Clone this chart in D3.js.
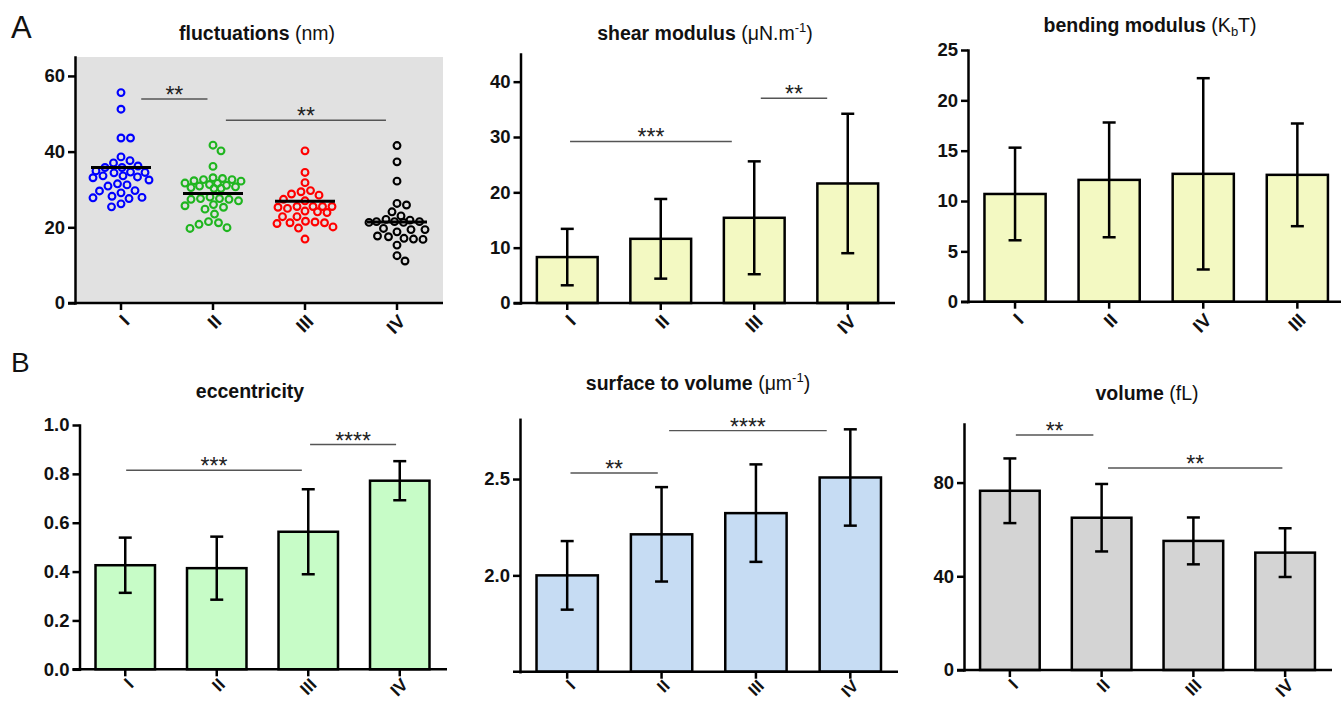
<!DOCTYPE html>
<html><head><meta charset="utf-8">
<script src="https://cdn.jsdelivr.net/npm/d3@7"></script>
<style>
body{margin:0;background:#fff}
svg{display:block;font-family:"Liberation Sans",Arial,sans-serif}
</style>
</head><body>
<svg id="chart" width="1341" height="702"></svg>
<script>
// ---------------- DATA ----------------
const categories = ["I", "II", "III", "IV"];
const bendingCategories = ["I", "II", "IV", "III"];

// fluctuations (nm) – individual cells
const fluctI = [55.6, 51.2, 43.6, 43.6, 38.6, 37.6, 37.0, 36.2, 35.8, 35.8, 34.9, 34.6, 34.5, 34.4, 33.6, 33.6, 33.3, 33.1, 32.5, 31.5, 31.2, 30.9, 29.7, 29.6, 29.1, 28.2, 27.9, 27.8, 27.6, 26.2, 25.4];
const fluctII = [41.7, 40.2, 36.1, 33.1, 32.9, 32.6, 32.6, 32.3, 32.2, 31.7, 31.6, 31.3, 31.1, 30.9, 30.7, 30.5, 30.3, 30.3, 28.0, 27.6, 27.6, 27.4, 27.4, 27.0, 26.0, 25.7, 25.3, 24.8, 23.5, 21.5, 21.2, 20.8, 19.9, 19.7];
const fluctIII = [40.2, 34.5, 31.8, 29.7, 29.4, 28.8, 28.5, 27.4, 27.0, 25.5, 25.5, 25.5, 25.5, 25.3, 25.0, 24.3, 24.1, 23.9, 22.8, 22.8, 21.6, 21.4, 21.2, 21.2, 21.0, 20.1, 19.8, 16.9];
const fluctIV = [41.6, 37.3, 32.2, 26.3, 25.9, 24.1, 23.0, 22.1, 21.9, 21.5, 21.5, 21.5, 21.3, 21.3, 19.7, 19.4, 19.4, 18.8, 17.7, 17.5, 17.1, 16.9, 16.8, 15.3, 12.5, 11.1];
const fluctMeans = [35.8, 28.9, 26.9, 21.4];
const fluctTicks = [0, 20, 40, 60];
const fluctSigFrom = [0.22, 1.14], fluctSigTo = [0.94, 2.88], fluctSigY = [53.9, 48.3], fluctSigLabel = ["**", "**"];

// shear modulus
const shearMeans = [8.3, 11.6, 15.4, 21.6];
const shearSD = [5.1, 7.2, 10.2, 12.6];
const shearTicks = [0, 10, 20, 30, 40];
const shearSigFrom = [0.03, 2.07], shearSigTo = [1.76, 2.78], shearSigY = [29.2, 37.0], shearSigLabel = ["***", "**"];

// bending modulus (order I, II, IV, III)
const bendMeans = [10.7, 12.1, 12.7, 12.6];
const bendSD = [4.6, 5.7, 9.5, 5.1];
const bendTicks = [0, 5, 10, 15, 20, 25];

// eccentricity
const eccMeans = [0.426, 0.414, 0.563, 0.772];
const eccSD = [0.113, 0.129, 0.174, 0.080];
const eccTicks = [0, 0.2, 0.4, 0.6, 0.8, 1.0];
const eccSigFrom = [0.01, 2.02], eccSigTo = [1.93, 2.96], eccSigY = [0.815, 0.92], eccSigLabel = ["***", "****"];

// surface to volume
const svMeans = [2.0, 2.213, 2.323, 2.508];
const svSD = [0.178, 0.245, 0.253, 0.25];
const svTicks = [2.0, 2.5];
const svSigFrom = [0.035, 1.08], svSigTo = [0.96, 2.75], svSigY = [2.531, 2.751], svSigLabel = ["**", "****"];

// volume
const volMeans = [76.5, 65.0, 55.1, 50.1];
const volSD = [13.8, 14.4, 10.0, 10.4];
const volTicks = [0, 40, 80];
const volSigFrom = [0.065, 1.07], volSigTo = [0.91, 2.97], volSigY = [100.3, 86.2], volSigLabel = ["**", "**"];

// ---------------- DRAWING ----------------
const svg = d3.select("#chart");
const AX = 2.5;
const TICK_FS = 18.5;

function makeScales(f, cats, domain) {
  const x = d3.scaleBand().domain(cats).range([f.x0, f.x1]).paddingInner(0.35).paddingOuter(0.175);
  const y = d3.scaleLinear().domain(domain).range([f.bottom, f.top]);
  const idx = d3.scaleLinear().domain([0, cats.length - 1])
    .range([x(cats[0]) + x.bandwidth() / 2, x(cats[cats.length - 1]) + x.bandwidth() / 2]);
  return {x, y, idx};
}

function drawAxes(g, f, s, ticks, fmt, fs) {
  const yAx = g.append("g").attr("transform", `translate(${f.x0},0)`)
    .call(d3.axisLeft(s.y).tickValues(ticks).tickFormat(fmt).tickSize(7).tickSizeOuter(0).tickPadding(3));
  yAx.select(".domain").attr("stroke-width", AX).attr("stroke-linecap", "square");
  yAx.selectAll(".tick line").attr("stroke-width", AX);
  yAx.selectAll(".tick text").attr("font-size", fs).attr("font-weight", "bold").attr("fill", "#111")
    .attr("font-family", '"Liberation Sans",Arial,sans-serif');

  const labDy = f.labDy || 15;
  const xAx = g.append("g").attr("transform", `translate(0,${f.bottom})`)
    .call(d3.axisBottom(s.x).tickSize(7).tickSizeOuter(0));
  xAx.select(".domain").remove();
  xAx.selectAll(".tick line").attr("stroke-width", AX);
  xAx.selectAll(".tick text").attr("font-size", f.labFs || fs).attr("font-weight", "bold").attr("fill", "#111")
    .attr("font-family", '"Liberation Sans",Arial,sans-serif')
    .attr("x", 0).attr("y", 0).attr("dy", "0.35em")
    .attr("text-anchor", "end")
    .attr("transform", `translate(5,${labDy}) rotate(-45)`);
  g.append("line").attr("x1", f.x0 - 7).attr("x2", f.axEnd).attr("y1", f.bottom).attr("y2", f.bottom)
    .attr("stroke", "#000").attr("stroke-width", AX);
}

function drawTitle(cx, by, bold, unit, sup, sub, tail) {
  const t = svg.append("text").attr("x", cx).attr("y", by).attr("text-anchor", "middle")
    .attr("font-size", 19.5).attr("fill", "#111");
  t.append("tspan").attr("font-weight", "bold").text(bold);
  if (unit !== null) {
    t.append("tspan").text(" " + unit);
    if (sup) t.append("tspan").attr("font-size", 13).attr("dy", -8).text(sup);
    if (sub) t.append("tspan").attr("font-size", 13).attr("dy", 4).text(sub);
    if (tail) t.append("tspan").attr("dy", sup ? 8 : (sub ? -4 : 0)).text(tail);
  }
}

function drawSig(g, s, from, to, yv, labels) {
  from.forEach((fr, i) => {
    const yy = s.y(yv[i]);
    g.append("line").attr("x1", s.idx(fr)).attr("x2", s.idx(to[i])).attr("y1", yy).attr("y2", yy)
      .attr("stroke", "#555").attr("stroke-width", 1.4);
    g.append("text").attr("x", (s.idx(fr) + s.idx(to[i])) / 2).attr("y", yy + 4)
      .attr("text-anchor", "middle").attr("font-size", 23).attr("fill", "#222").text(labels[i]);
  });
}

function drawBars(f, cats, domain, means, sds, ticks, fmt, fill, fs) {
  const g = svg.append("g");
  const s = makeScales(f, cats, domain);
  const data = cats.map((c, i) => ({c, m: means[i], sd: sds[i]}));
  g.selectAll("rect.bar").data(data).join("rect").attr("class", "bar")
    .attr("x", d => s.x(d.c)).attr("width", s.x.bandwidth())
    .attr("y", d => s.y(d.m)).attr("height", d => f.bottom - s.y(d.m))
    .attr("fill", fill).attr("stroke", "#000").attr("stroke-width", AX);
  const cx = d => s.x(d.c) + s.x.bandwidth() / 2;
  g.selectAll("line.eb").data(data).join("line").attr("class", "eb")
    .attr("x1", cx).attr("x2", cx).attr("y1", d => s.y(d.m + d.sd)).attr("y2", d => s.y(d.m - d.sd))
    .attr("stroke", "#000").attr("stroke-width", AX);
  ["top", "bot"].forEach(k => {
    g.selectAll("line.cap" + k).data(data).join("line").attr("class", "cap" + k)
      .attr("x1", d => cx(d) - 6.5).attr("x2", d => cx(d) + 6.5)
      .attr("y1", d => s.y(k === "top" ? d.m + d.sd : d.m - d.sd))
      .attr("y2", d => s.y(k === "top" ? d.m + d.sd : d.m - d.sd))
      .attr("stroke", "#000").attr("stroke-width", AX);
  });
  drawAxes(g, f, s, ticks, fmt, fs);
  return {g, s};
}

// beeswarm layout computed from values
function swarm(values, yScale, dist, maxOff) {
  const order = values.map((v, i) => i).sort((a, b) => values[b] - values[a]);
  const cands = [];
  for (let o = 0; o <= maxOff; o += 0.5) { cands.push(o); if (o > 0) cands.push(-o); }
  const placed = [], xs = new Array(values.length);
  order.forEach(i => {
    const py = yScale(values[i]);
    let best = 0, bestScore = -1;
    for (const c of cands) {
      let md = Infinity;
      for (const p of placed) { const d = Math.hypot(p.x - c, p.y - py); if (d < md) md = d; }
      if (md >= dist) { best = c; break; }
      if (md > bestScore) { bestScore = md; best = c; }
    }
    xs[i] = best; placed.push({x: best, y: py});
  });
  return xs;
}

// ---- Panel A1: fluctuations scatter ----
{
  const f = {x0: 75, x1: 443, top: 57, bottom: 303, axEnd: 443};
  const g = svg.append("g");
  g.append("rect").attr("x", f.x0).attr("y", f.top).attr("width", f.x1 - f.x0).attr("height", f.bottom - f.top)
    .attr("fill", "#e1e1e1");
  const s = makeScales(f, categories, [0, 65]);
  const groups = [fluctI, fluctII, fluctIII, fluctIV];
  const colors = ["#0000ff", "#1fb51f", "#ff0000", "#000000"];
  groups.forEach((vals, gi) => {
    const c = s.x(categories[gi]) + s.x.bandwidth() / 2;
    const offs = swarm(vals, s.y, 9.5, 28);
    g.selectAll("circle.g" + gi).data(vals).join("circle").attr("class", "g" + gi)
      .attr("cx", (d, i) => c + offs[i]).attr("cy", d => s.y(d)).attr("r", 3.4)
      .attr("fill", "none").attr("stroke", colors[gi]).attr("stroke-width", 2.1);
  });
  g.selectAll("line.mean").data(fluctMeans).join("line").attr("class", "mean")
    .attr("x1", (d, i) => s.x(categories[i]) + s.x.bandwidth() / 2 - 30)
    .attr("x2", (d, i) => s.x(categories[i]) + s.x.bandwidth() / 2 + 30)
    .attr("y1", d => s.y(d)).attr("y2", d => s.y(d))
    .attr("stroke", "#000").attr("stroke-width", 3);
  drawSig(g, s, fluctSigFrom, fluctSigTo, fluctSigY, fluctSigLabel);
  drawAxes(g, f, s, fluctTicks, d3.format("d"), TICK_FS);
  drawTitle(257, 40, "fluctuations", "(nm)");
}

// ---- Panel A2: shear modulus ----
{
  const f = {x0: 520.5, x1: 894.5, top: 54, bottom: 303, axEnd: 895};
  const r = drawBars(f, categories, [0, 45], shearMeans, shearSD, shearTicks, d3.format("d"), "#f3f9c2", TICK_FS);
  drawSig(r.g, r.s, shearSigFrom, shearSigTo, shearSigY, shearSigLabel);
  drawTitle(705, 40, "shear modulus", "(μN.m", "-1", null, ")");
}

// ---- Panel A3: bending modulus ----
{
  const f = {x0: 968, x1: 1344.4, top: 50, bottom: 301.7, axEnd: 1341};
  drawBars(f, bendingCategories, [0, 25], bendMeans, bendSD, bendTicks, d3.format("d"), "#f3f9c2", TICK_FS);
  drawTitle(1150, 32, "bending modulus", "(K", null, "b", "T)");
}

// ---- Panel B1: eccentricity ----
{
  const f = {x0: 79.5, x1: 445.5, top: 425, bottom: 669.3, axEnd: 447, labDy: 12, labFs: 17.5};
  const r = drawBars(f, categories, [0, 1.0], eccMeans, eccSD, eccTicks, d3.format(".1f"), "#c7fcc7", TICK_FS);
  drawSig(r.g, r.s, eccSigFrom, eccSigTo, eccSigY, eccSigLabel);
  drawTitle(250, 398, "eccentricity", null);
}

// ---- Panel B2: surface to volume ----
{
  const f = {x0: 520, x1: 897.5, top: 419.3, bottom: 671.7, axEnd: 898, labDy: 11, labFs: 17};
  const r = drawBars(f, categories, [1.5, 2.81], svMeans, svSD, svTicks, d3.format(".1f"), "#c6dcf3", TICK_FS);
  drawSig(r.g, r.s, svSigFrom, svSigTo, svSigY, svSigLabel);
  drawTitle(698, 390, "surface to volume", "(μm", "-1", null, ")");
}

// ---- Panel B3: volume ----
{
  const f = {x0: 964, x1: 1331, top: 424, bottom: 670, axEnd: 1332, labDy: 12, labFs: 17.5};
  const r = drawBars(f, categories, [0, 105], volMeans, volSD, volTicks, d3.format("d"), "#d4d4d4", TICK_FS);
  drawSig(r.g, r.s, volSigFrom, volSigTo, volSigY, volSigLabel);
  drawTitle(1147, 400, "volume", "(fL)");
}

// panel letters
svg.append("text").attr("x", 11).attr("y", 38).attr("font-size", 31).attr("fill", "#111").text("A");
svg.append("text").attr("x", 11).attr("y", 372).attr("font-size", 28).attr("fill", "#111").text("B");
</script>
</body></html>
